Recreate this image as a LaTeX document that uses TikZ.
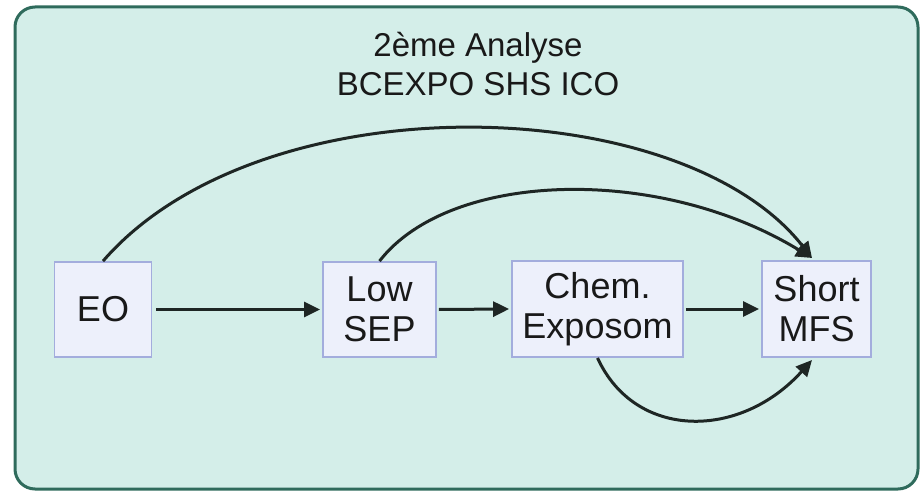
\documentclass[tikz,border=0pt]{standalone}
\usepackage{fontspec}
\setmainfont{Liberation Sans}
\usetikzlibrary{arrows.meta}
\definecolor{frameline}{HTML}{2F6B5C}
\definecolor{framefill}{HTML}{D4EEE9}
\definecolor{boxline}{HTML}{A3ADDD}
\definecolor{boxfill}{HTML}{EDF0FB}
\definecolor{arrowcol}{HTML}{1E2624}
\begin{document}
\begin{tikzpicture}[x=1pt,y=-1pt,
  stepbox/.style={draw=boxline,fill=boxfill,line width=1.8pt,inner sep=0pt,
    align=center,font=\fontsize{36}{40}\selectfont,text=black!90},
  conn/.style={draw=arrowcol,line width=3pt,-{Triangle[length=16pt,width=15pt]}}]
\useasboundingbox (0,0) rectangle (923,497);
\draw[frameline,fill=framefill,line width=3pt,rounded corners=20pt] (15,7) rectangle (918,489);
\node[align=center,font=\fontsize{33}{39}\selectfont,text=black!90] (title) at (478,64) {2ème Analyse\\BCEXPO SHS ICO};
\node[stepbox,minimum width=97pt,minimum height=95pt] (eo) at (103,309.5) {EO};
\node[stepbox,minimum width=113pt,minimum height=95pt] (sep) at (379.5,309.5) {Low\\SEP};
\node[stepbox,minimum width=171pt,minimum height=96pt] (chem) at (597.5,309) {Chem.\\Exposom};
\node[stepbox,minimum width=109pt,minimum height=96pt] (mfs) at (816.5,309) {Short\\MFS};
\coordinate (mfstop) at (812,258);
\coordinate (mfsbot) at (812,360);
\draw[conn] (eo.east) ++(4,0) -- ([xshift=-2pt]sep.west);
\draw[conn] (sep.east) ++(2,0) -- ([xshift=-2pt]chem.west);
\draw[conn] (chem.east) ++(2,0) -- ([xshift=-2pt]mfs.west);
\draw[conn] (eo.north) .. controls (260,80) and (680,90) .. (mfstop);
\draw[conn] (sep.north) .. controls (450,170) and (660,165) .. (mfstop);
\draw[conn] (chem.south) .. controls (635,440) and (740,440) .. (mfsbot);
\end{tikzpicture}
\end{document}
